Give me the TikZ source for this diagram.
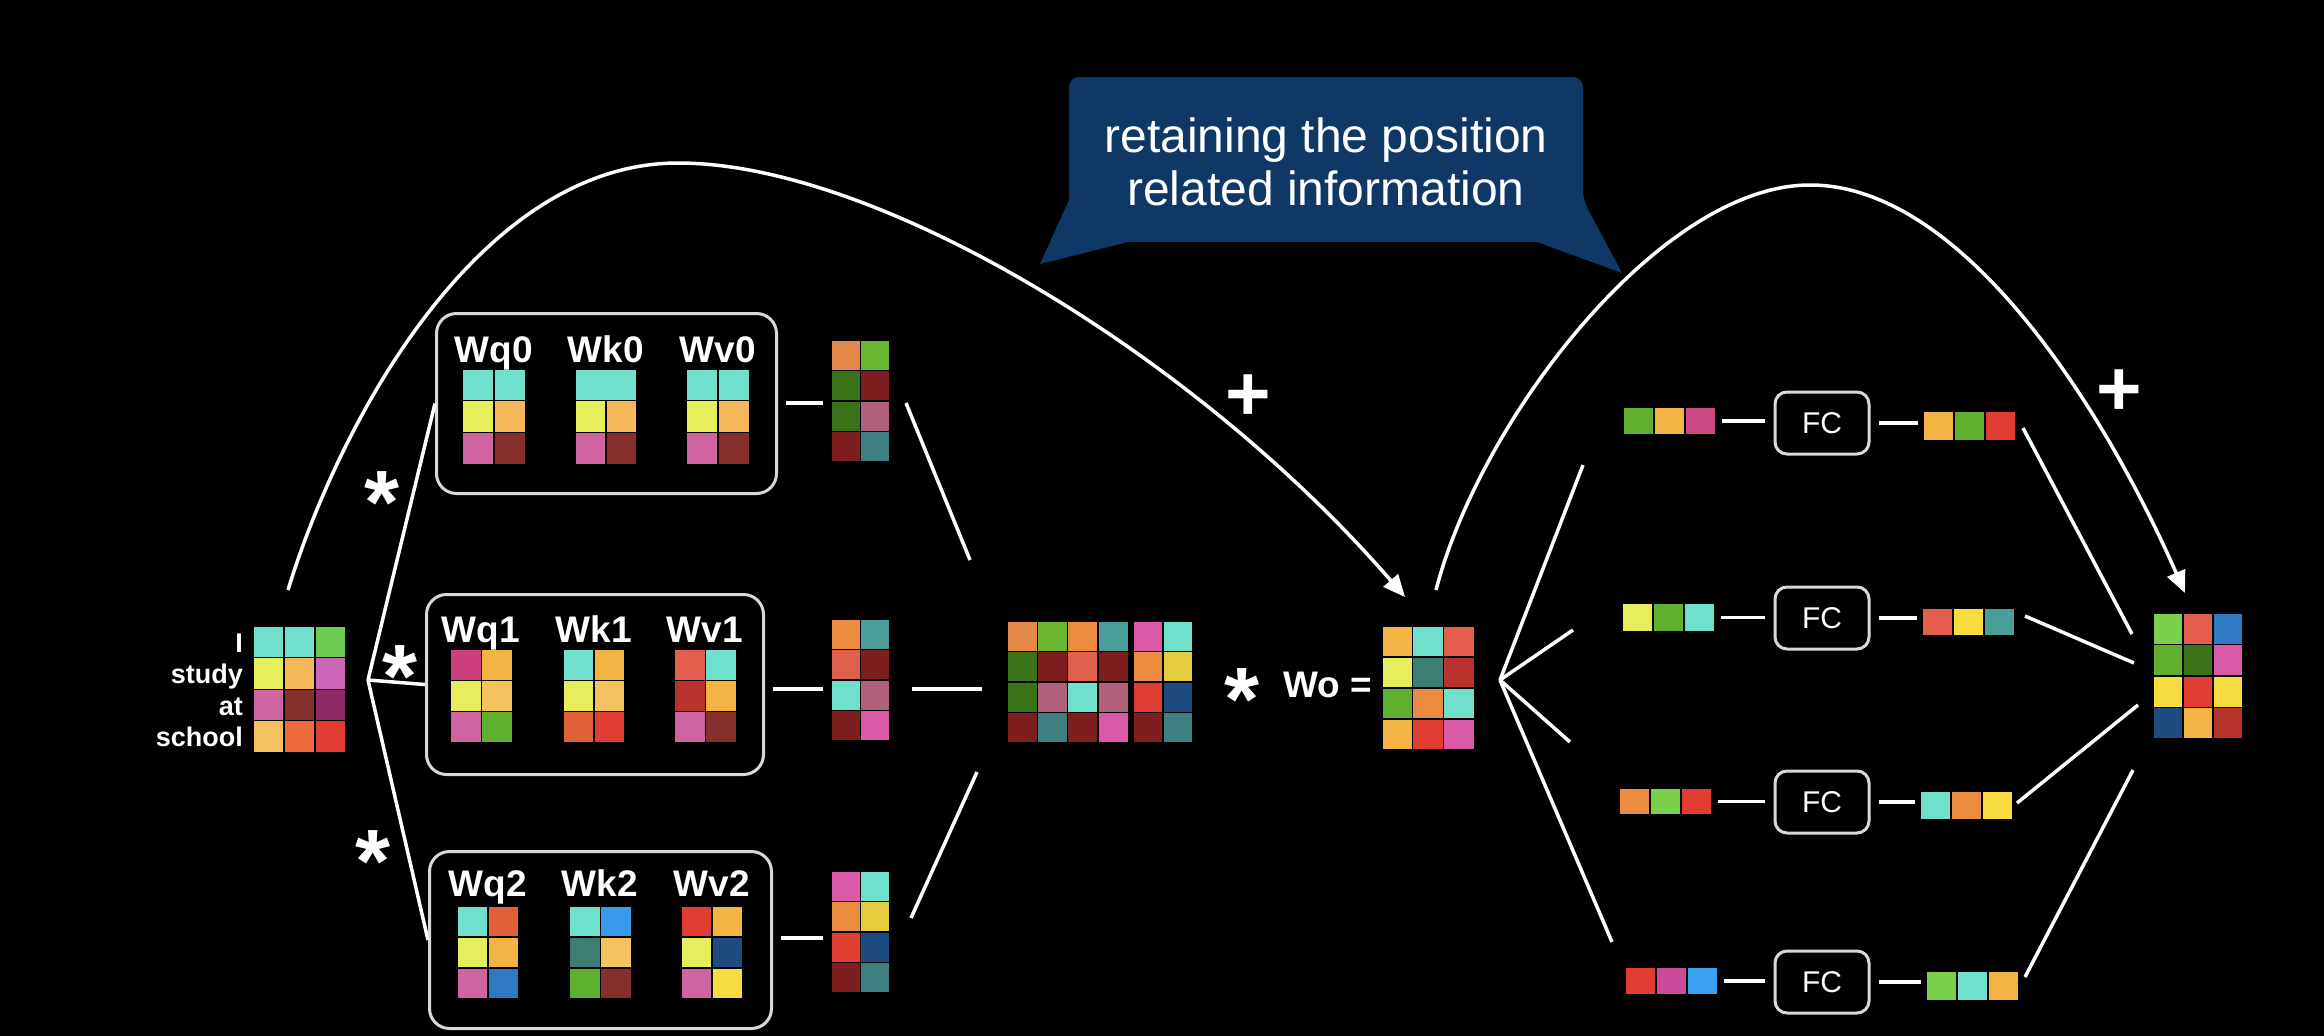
\documentclass[tikz,border=0pt]{standalone}
\usepackage{fontspec}
\setmainfont{Liberation Sans}
\usetikzlibrary{arrows.meta}
\definecolor{turq}{HTML}{6EE0CB}
\definecolor{lgreen}{HTML}{6CCB4E}
\definecolor{yel}{HTML}{E6EE5C}
\definecolor{org}{HTML}{F4B85A}
\definecolor{viol}{HTML}{CC66B8}
\definecolor{pnk}{HTML}{CE64A0}
\definecolor{dred}{HTML}{86302E}
\definecolor{plum}{HTML}{8E2B66}
\definecolor{lorg}{HTML}{F4C25E}
\definecolor{orgred}{HTML}{EC6B3A}
\definecolor{orgredb}{HTML}{E06038}
\definecolor{red}{HTML}{E23D32}
\definecolor{mag}{HTML}{CE3F7E}
\definecolor{grn}{HTML}{5EB02E}
\definecolor{coral}{HTML}{E35E4C}
\definecolor{rdk}{HTML}{B8322E}
\definecolor{blue}{HTML}{2F78C4}
\definecolor{sky}{HTML}{3A9AEA}
\definecolor{teal}{HTML}{3D7E72}
\definecolor{navy}{HTML}{1E4C80}
\definecolor{gold}{HTML}{F9DC40}
\definecolor{orgA}{HTML}{F3B444}
\definecolor{headorange}{HTML}{E5894A}
\definecolor{lgr}{HTML}{6BB631}
\definecolor{dgrn}{HTML}{3A7218}
\definecolor{mar}{HTML}{7E1E1E}
\definecolor{rose}{HTML}{B0607A}
\definecolor{hteal}{HTML}{3E7F80}
\definecolor{hteala}{HTML}{4A9E9A}
\definecolor{hpink}{HTML}{DA5AA8}
\definecolor{hyel}{HTML}{E4CC3E}
\definecolor{hred}{HTML}{E03E33}
\definecolor{hcoral}{HTML}{E0604E}
\definecolor{horg}{HTML}{EC8C3E}
\definecolor{lgrnb}{HTML}{7AD04A}
\definecolor{vmag}{HTML}{CC4A82}
\definecolor{vmagb}{HTML}{CC4A9A}
\definecolor{skyb}{HTML}{3AA0F0}
\definecolor{boxgray}{HTML}{D8D8D8}
\definecolor{calloutblue}{HTML}{0F3866}

\tikzset{
  cellstyle/.style={draw=black, line width=1.2pt},
  gridframe/.style={inner sep=0pt, outer sep=0pt, draw=none, anchor=north west},
  wbox/.style={draw=boxgray, line width=3pt, rounded corners=20pt, inner sep=0pt, anchor=north west},
  fcbox/.style={draw=boxgray, line width=3pt, rounded corners=12pt, minimum width=94pt, minimum height=62pt, text=white, font=\fontsize{30}{30}\selectfont, inner sep=0pt},
  conn/.style={draw=white, line width=3.5pt},
  arcline/.style={draw=white, line width=3.5pt, -{Triangle[length=22pt,width=19pt]}},
  wlab/.style={text=white, font=\fontsize{37}{37}\selectfont\bfseries, inner sep=0pt, anchor=base},
  inlab/.style={text=white, font=\fontsize{27}{27}\selectfont\bfseries, inner sep=0pt, anchor=base east},
  starlab/.style={text=white, font=\fontsize{90}{90}\selectfont\bfseries, inner sep=0pt},
  pluslab/.style={text=white, font=\fontsize{78}{78}\selectfont\bfseries, inner sep=0pt},
  calltext/.style={text=white, font=\fontsize{48}{53}\selectfont, align=center, inner sep=0pt},
  callout/.style={fill=calloutblue},
}

\newcommand{\mgrid}[8]{%
  \foreach \cc [count=\ii from 0] in {#8}{%
    \pgfmathtruncatemacro{\gc}{mod(\ii,#4)}%
    \pgfmathtruncatemacro{\gr}{div(\ii,#4)}%
    \path[cellstyle, fill=\cc] ({#2+\gc*#6},{#3+\gr*#7}) rectangle ++(#6,#7);
  }%
  \node[gridframe, minimum width={#4*#6*1pt}, minimum height={#5*#7*1pt}] (#1) at (#2,#3) {};
}

\begin{document}
\begin{tikzpicture}[x=1pt,y=-1pt]
\useasboundingbox (0,0) rectangle (2324,1036);
\fill[black] (0,0) rectangle (2324,1036);

% callout
\fill[callout] (1040,264) -- (1069,200) [rounded corners=10pt] -- (1069,77) -- (1583,77) -- (1583,200) [sharp corners] -- (1622,273) -- (1537,242) -- (1128,242) -- cycle;
\node[calltext] (ctext) at (1326,162) {retaining the position\\related information};

% input
\mgrid{xin}{253}{626}{3}{4}{31}{31.6}{turq,turq,lgreen,yel,org,viol,pnk,dred,plum,lorg,orgred,red}
\node[inlab] (lI) at (243,652) {I};
\node[inlab] (lstudy) at (243,683) {study};
\node[inlab] (lat) at (243,715) {at};
\node[inlab] (lschool) at (243,746) {school};

% boxes
\node[wbox, minimum width=340pt, minimum height=180pt] (box0) at (435,312) {};
\node[wbox, minimum width=337pt, minimum height=180pt] (box1) at (425,593) {};
\node[wbox, minimum width=342pt, minimum height=177pt] (box2) at (428,850) {};

\mgrid{wq0}{462}{369}{2}{3}{32}{31.7}{turq,turq,yel,org,pnk,dred}
\mgrid{wk0}{575}{369}{2}{3}{31}{31.7}{turq,turq,yel,org,pnk,dred}
\path[cellstyle, fill=turq] (575,369) rectangle ++(62,31.7);
\mgrid{wv0}{686}{369}{2}{3}{32}{31.7}{turq,turq,yel,org,pnk,dred}
\node[wlab] (lq0) at (494,362) {Wq0};
\node[wlab] (lk0) at (606,362) {Wk0};
\node[wlab] (lv0) at (718,362) {Wv0};

\mgrid{wq1}{450}{649}{2}{3}{31.5}{31.3}{mag,orgA,yel,lorg,pnk,grn}
\mgrid{wk1}{563}{649}{2}{3}{31}{31.3}{turq,orgA,yel,lorg,orgredb,red}
\mgrid{wv1}{674}{649}{2}{3}{31.5}{31.3}{coral,turq,rdk,orgA,pnk,dred}
\node[wlab] (lq1) at (481,642) {Wq1};
\node[wlab] (lk1) at (594,642) {Wk1};
\node[wlab] (lv1) at (705,642) {Wv1};

\mgrid{wq2}{457}{906}{2}{3}{31}{31}{turq,orgredb,yel,orgA,pnk,blue}
\mgrid{wk2}{569}{906}{2}{3}{31.5}{31}{turq,sky,teal,lorg,grn,dred}
\mgrid{wv2}{681}{906}{2}{3}{31}{31}{red,orgA,yel,navy,pnk,gold}
\node[wlab] (lq2) at (488,896) {Wq2};
\node[wlab] (lk2) at (600,896) {Wk2};
\node[wlab] (lv2) at (712,896) {Wv2};

% fan from input
\coordinate (fan) at (368,680);
\draw[conn] (fan) -- (box0.west);
\draw[conn] (fan) -- (box1.west);
\draw[conn] (fan) -- (box2.west);
\node[starlab] (s0) at (382,503) {*};
\node[starlab] (s1) at (400,677) {*};
\node[starlab] (s2) at (373,862) {*};

% heads
\mgrid{h0}{831}{340}{2}{4}{29.5}{30.5}{headorange,lgr,dgrn,mar,dgrn,rose,mar,hteal}
\mgrid{h1}{831}{619}{2}{4}{29.5}{30.5}{horg,hteala,hcoral,mar,turq,rose,mar,hpink}
\mgrid{h2}{831}{871}{2}{4}{29.5}{30.5}{hpink,turq,horg,hyel,hred,navy,mar,hteal}
\coordinate (m0) at (0,403);
\coordinate (m1) at (0,689);
\coordinate (m2) at (0,938);
\draw[conn, shorten <=8pt, shorten >=8pt] (box0.east |- m0) -- (h0.west |- m0);
\draw[conn, shorten <=8pt, shorten >=8pt] (box1.east |- m1) -- (h1.west |- m1);
\draw[conn, shorten <=8pt, shorten >=8pt] (box2.east |- m2) -- (h2.west |- m2);

% concat
\mgrid{ca}{1007}{621}{4}{4}{30.3}{30.5}{headorange,lgr,horg,hteala,dgrn,mar,hcoral,mar,dgrn,rose,turq,rose,mar,hteal,mar,hpink}
\mgrid{cb}{1133}{621}{2}{4}{30}{30.5}{hpink,turq,horg,hyel,hred,navy,mar,hteal}
\coordinate (c0a) at (906,403);
\coordinate (c0b) at (970,560);
\coordinate (c2a) at (911,918);
\coordinate (c2b) at (977,772);
\draw[conn] (c0a) -- (c0b);
\draw[conn, shorten <=22pt, shorten >=25pt] (h1.east |- m1) -- (ca.west |- m1);
\draw[conn] (c2a) -- (c2b);

% Wo
\node[starlab] (s3) at (1242,700) {*};
\node[wlab, anchor=base west] (wolab) at (1283,697) {Wo =};
\mgrid{wo}{1382}{626}{3}{4}{30.7}{31}{orgA,turq,coral,yel,teal,rdk,grn,horg,turq,orgA,red,hpink}

% FC rows
\mgrid{v1i}{1623}{407}{3}{1}{31}{28}{grn,orgA,vmag}
\mgrid{v1o}{1923}{411}{3}{1}{31}{30}{orgA,grn,red}
\mgrid{v2i}{1622}{603}{3}{1}{31}{29}{yel,grn,turq}
\mgrid{v2o}{1922}{608}{3}{1}{31}{28}{coral,gold,hteala}
\mgrid{v3i}{1619}{788}{3}{1}{31}{27}{horg,lgrnb,red}
\mgrid{v3o}{1920}{791}{3}{1}{31}{29}{turq,horg,gold}
\mgrid{v4i}{1625}{967}{3}{1}{31}{28}{red,vmagb,skyb}
\mgrid{v4o}{1926}{971}{3}{1}{31}{30}{lgrnb,turq,orgA}
\node[fcbox] (fc1) at (1822,423) {FC};
\node[fcbox] (fc2) at (1822,618) {FC};
\node[fcbox] (fc3) at (1822,802) {FC};
\node[fcbox] (fc4) at (1822,982) {FC};
\foreach \r in {1,2,3,4}{
  \draw[conn, shorten <=6pt, shorten >=9pt] (v\r i.east) -- (v\r i.east -| fc\r.west);
  \draw[conn, shorten <=8pt, shorten >=5pt] (fc\r.east) -- (fc\r.east -| v\r o.west);
}

% fan from Wo
\coordinate (wofan) at (1500,680);
\coordinate (f1) at (1583,465);
\coordinate (f2) at (1573,630);
\coordinate (f3) at (1570,742);
\coordinate (f4) at (1612,942);
\foreach \k in {1,2,3,4}{ \draw[conn] (wofan) -- (f\k); }

% final
\mgrid{fin}{2153}{613}{3}{4}{30}{31.5}{lgrnb,coral,blue,grn,dgrn,hpink,gold,red,gold,navy,orgA,rdk}
\coordinate (g1a) at (2023,428); \coordinate (g1b) at (2132,634);
\coordinate (g2a) at (2025,616); \coordinate (g2b) at (2134,663);
\coordinate (g3a) at (2017,803); \coordinate (g3b) at (2138,705);
\coordinate (g4a) at (2025,977); \coordinate (g4b) at (2133,770);
\foreach \k in {1,2,3,4}{ \draw[conn] (g\k a) -- (g\k b); }

% arcs
\coordinate (a1s) at (288,590);
\coordinate (a1e) at (1405,597);
\draw[arcline] (a1s) .. controls (340,420) and (480,163) .. (678,163) .. controls (880,163) and (1200,360) .. (a1e);
\coordinate (a2s) at (1436,590);
\coordinate (a2e) at (2185,593);
\draw[arcline] (a2s) .. controls (1480,420) and (1660,185) .. (1810,185) .. controls (1960,185) and (2100,400) .. (a2e);
\node[pluslab] (p1) at (1248,398) {+};
\node[pluslab] (p2) at (2119,393) {+};
\end{tikzpicture}
\end{document}
